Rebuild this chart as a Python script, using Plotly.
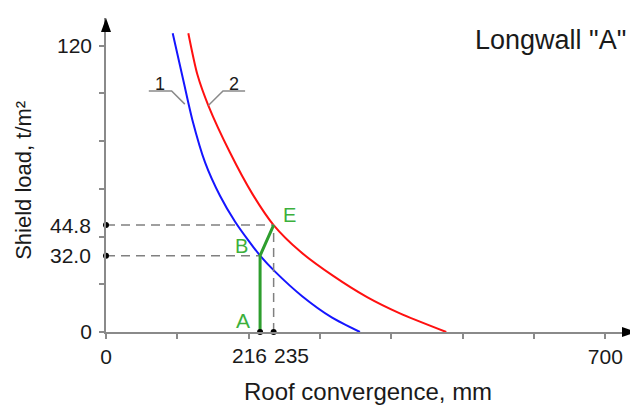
import plotly.graph_objects as go

# ---- data ----
blue_x = [93.5, 108, 121, 139, 160, 181, 199, 216, 237, 275, 317, 356]
blue_y = [125.2, 106, 89, 71, 57, 46.2, 38.6, 32.0, 25.3, 15.0, 6.0, 0]
red_x = [115.4, 128, 143.5, 174, 205, 235, 272, 318, 366, 412, 477]
red_y = [125.2, 108, 94.9, 75.1, 58.0, 44.8, 33.8, 23.6, 14.6, 7.8, 0]

# green path A -> B -> E
pt_names = ["A", "B", "E"]
pt_x = [216, 216, 235]
pt_y = [0, 32.0, 44.8]

x_ticks = [0, 100, 200, 300, 400, 500, 600, 700]
x_ticktext = ["0", "", "", "", "", "", "", "700"]
y_ticks = [0, 20, 40, 60, 80, 100, 120]
y_ticktext = ["0", "", "", "", "", "", "120"]
x_special = [216, 235]
x_special_text = ["216", "235"]
y_special = [32.0, 44.8]
y_special_text = ["32.0", "44.8"]

x_max = 743
y_max = 131.6

FONT = "Liberation Sans, Arial, sans-serif"
AXC = "#8a8a8a"
TXT = "#1a1a1a"
GREEN = "#2e9e2e"
GREEN_TXT = "#3cb03c"

fig = go.Figure()

# curves
fig.add_trace(go.Scatter(x=blue_x, y=blue_y, mode="lines",
                         line=dict(color="#1515ff", width=2, shape="spline", smoothing=0.7),
                         cliponaxis=False, hoverinfo="skip"))
fig.add_trace(go.Scatter(x=red_x, y=red_y, mode="lines",
                         line=dict(color="#ff1010", width=2, shape="spline", smoothing=0.7),
                         cliponaxis=False, hoverinfo="skip"))

# dashed guide lines
dash = dict(color="#808080", width=1.5, dash="9px,6px")
fig.add_trace(go.Scatter(x=[0, pt_x[2]], y=[pt_y[2], pt_y[2]], mode="lines", line=dash, cliponaxis=False, hoverinfo="skip"))
fig.add_trace(go.Scatter(x=[0, pt_x[1]], y=[pt_y[1], pt_y[1]], mode="lines", line=dash, cliponaxis=False, hoverinfo="skip"))
fig.add_trace(go.Scatter(x=[pt_x[2], pt_x[2]], y=[0, pt_y[2]], mode="lines", line=dash, cliponaxis=False, hoverinfo="skip"))

# green path
fig.add_trace(go.Scatter(x=pt_x, y=pt_y, mode="lines", line=dict(color=GREEN, width=3), cliponaxis=False, hoverinfo="skip"))

# dots on axes
fig.add_trace(go.Scatter(x=x_special + [0, 0], y=[0, 0] + y_special, mode="markers",
                         marker=dict(color="black", size=6), cliponaxis=False, hoverinfo="skip"))

# leader lines for curve labels 1 and 2
r_i = 2
lead1_x = [60, 92, 110.5]
lead1_y = [101, 101, 95.5]
lead2_x = [195, 164, red_x[r_i]]
lead2_y = [101, 101, red_y[r_i]]
for lx, ly in [(lead1_x, lead1_y), (lead2_x, lead2_y)]:
    fig.add_trace(go.Scatter(x=lx, y=ly, mode="lines", line=dict(color="#8a8a8a", width=1.5),
                             cliponaxis=False, hoverinfo="skip"))

ann = []
ann.append(dict(x=(lead1_x[0] + lead1_x[1]) / 2, y=lead1_y[0], text="1", showarrow=False, yanchor="bottom",
                font=dict(size=18, color=TXT, family=FONT), yshift=-5))
ann.append(dict(x=(lead2_x[0] + lead2_x[1]) / 2, y=lead2_y[0], text="2", showarrow=False, yanchor="bottom",
                font=dict(size=18, color=TXT, family=FONT), yshift=-5))

# green labels
ann.append(dict(x=pt_x[0], y=pt_y[0], text=pt_names[0], showarrow=False, xanchor="right", yanchor="bottom",
                xshift=-8, yshift=-2, font=dict(size=21, color=GREEN_TXT, family=FONT)))
ann.append(dict(x=pt_x[1], y=pt_y[1], text=pt_names[1], showarrow=False, xanchor="right", yanchor="bottom",
                xshift=-10, yshift=-3, font=dict(size=20, color=GREEN_TXT, family=FONT)))
ann.append(dict(x=pt_x[2], y=pt_y[2], text=pt_names[2], showarrow=False, xanchor="left", yanchor="bottom",
                xshift=7, yshift=-3, font=dict(size=20, color=GREEN_TXT, family=FONT)))

# special tick labels
ann.append(dict(x=x_special[0], y=0, yref="paper", text=x_special_text[0], showarrow=False, xanchor="right",
                yanchor="middle", xshift=9, yshift=-23, font=dict(size=21, color=TXT, family=FONT)))
ann.append(dict(x=x_special[1], y=0, yref="paper", text=x_special_text[1], showarrow=False, xanchor="left",
                yanchor="middle", xshift=-2, yshift=-23, font=dict(size=21, color=TXT, family=FONT)))
for v, t in zip(y_special, y_special_text):
    ann.append(dict(x=0, xref="paper", y=v, text=t, showarrow=False, xanchor="right", yanchor="middle",
                    xshift=-13, font=dict(size=21, color=TXT, family=FONT)))

# titles
ann.append(dict(x=0.985, y=0.93, xref="paper", yref="paper", text='Longwall "A"', showarrow=False,
                xanchor="right", yanchor="middle", font=dict(size=27, color=TXT, family=FONT)))
ann.append(dict(x=0.494, y=-0.19, xref="paper", yref="paper", text="Roof convergence, mm", showarrow=False,
                xanchor="center", yanchor="middle", font=dict(size=24, color=TXT, family=FONT)))
ann.append(dict(x=-0.157, y=0.484, xref="paper", yref="paper", text="Shield load, t/m²", showarrow=False,
                textangle=-90, xanchor="center", yanchor="middle", font=dict(size=22, color=TXT, family=FONT)))

# page body has an 8px margin: figure is placed at (8, 8)
fig.update_layout(
    width=630, height=397,
    margin=dict(l=98, r=2, t=10, b=73),
    paper_bgcolor="white", plot_bgcolor="white",
    showlegend=False,
    annotations=ann,
    font=dict(family=FONT, size=21, color=TXT),
    shapes=[
        dict(type="path", xref="paper", yref="paper", xsizemode="pixel", ysizemode="pixel", xanchor=1, yanchor=0,
             path="M 0,0 L -14,5 L -14,-5 Z", fillcolor="black", line=dict(width=0), layer="above"),
        dict(type="path", xref="paper", yref="paper", xsizemode="pixel", ysizemode="pixel", xanchor=0, yanchor=1,
             path="M 0,0 L -5,-14 L 5,-14 Z", fillcolor="black", line=dict(width=0), layer="above"),
    ],
)
fig.update_xaxes(range=[0, x_max], showgrid=False, zeroline=False, showline=True, linecolor=AXC, linewidth=1.5,
                 ticks="outside", ticklen=5, tickcolor=AXC, tickwidth=1.5, tickvals=x_ticks, ticktext=x_ticktext,
                 tickfont=dict(size=21, color=TXT, family=FONT), ticklabelstandoff=0, fixedrange=True)
fig.update_yaxes(range=[0, y_max], showgrid=False, zeroline=False, showline=True, linecolor=AXC, linewidth=1.5,
                 ticks="outside", ticklen=5, tickcolor=AXC, tickwidth=1.5, tickvals=y_ticks, ticktext=y_ticktext,
                 tickfont=dict(size=21, color=TXT, family=FONT), ticklabelstandoff=3, fixedrange=True)

fig.write_html("out.html")
